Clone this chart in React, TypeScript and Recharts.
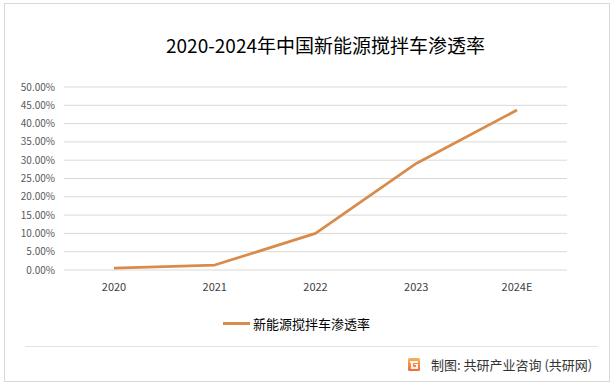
import { LineChart, Line, XAxis, YAxis, CartesianGrid } from 'recharts';

// values (share of new-energy mixer trucks)
const years = ['2020', '2021', '2022', '2023', '2024E'];
const penetration = [0.005, 0.0135, 0.1, 0.291, 0.437];
const yTicks = [0, 0.05, 0.1, 0.15, 0.2, 0.25, 0.3, 0.35, 0.4, 0.45, 0.5];

const seriesName = '新能源搅拌车渗透率';
const title = '2020-2024年中国新能源搅拌车渗透率';
const source = '制图: 共研产业咨询 (共研网)';

const lineColor = '#D88B4B';
const font = '"Noto Sans CJK SC", "Noto Sans", sans-serif';

const data = years.map((year, i) => ({ year, value: penetration[i] }));

const pct = (v: number) => `${(v * 100).toFixed(2)}%`;

function Logo() {
  return (
    <svg width={12} height={13} viewBox="0 0 12 13">
      <defs>
        <linearGradient id="lg" x1="0" y1="0" x2="0" y2="1">
          <stop offset="0%" stopColor="#F7B35A" />
          <stop offset="100%" stopColor="#EE6A3C" />
        </linearGradient>
      </defs>
      <rect x={0} y={0} width={12} height={13} rx={1.5} fill="url(#lg)" />
      <path d="M2 3 H10 V5 H5 V9 H8 V7 H6.5 V6 H10 V11 H3 V5 H2 Z" fill="#fff" opacity={0.9} />
    </svg>
  );
}

export default function App() {
  return (
    <div style={{ position: 'absolute', left: 0, top: 0, width: 615, height: 386, background: '#fff', fontFamily: font }}>
      {/* outer frame */}
      <div style={{ position: 'absolute', left: 4, top: 3, width: 604, height: 377, border: '1px solid #d9d9d9' }} />

      <div style={{ position: 'absolute', left: 0, right: 0, top: 32, textAlign: 'center', paddingLeft: 36, fontSize: 19, color: '#000', lineHeight: '26px' }}>
        {title}
      </div>

      <LineChart width={615} height={386} data={data} margin={{ top: 87, right: 48, bottom: 86, left: 0 }} style={{ position: 'absolute', left: 0, top: 0 }}>
        <CartesianGrid vertical={false} stroke="#d9d9d9" />
        <XAxis
          dataKey="year"
          axisLine={false}
          tickLine={false}
          tickSize={0}
          tickMargin={13}
          height={30}
          padding={{ left: 50, right: 50 }}
          tick={{ fontSize: 11, fill: '#404040', fontFamily: font }}
        />
        <YAxis
          domain={[0, 0.5]}
          ticks={yTicks}
          tickFormatter={pct}
          axisLine={false}
          tickLine={false}
          tickSize={0}
          tickMargin={9}
          width={64}
          interval={0}
          tick={{ fontSize: 10, fill: '#595959', fontFamily: font }}
        />
        <Line type="linear" dataKey="value" name={seriesName} stroke={lineColor} strokeWidth={2.75} strokeLinejoin="round" dot={false} isAnimationActive={false} />
      </LineChart>

      {/* legend */}
      <div style={{ position: 'absolute', left: 223, top: 314, display: 'flex', alignItems: 'center', fontSize: 13, color: '#000' }}>
        <span style={{ display: 'inline-block', width: 27, height: 3, background: lineColor, marginRight: 3 }} />
        <span>{seriesName}</span>
      </div>

      <div style={{ position: 'absolute', left: 25, top: 346, width: 573, height: 1, background: '#e3e3e3' }} />

      <div style={{ position: 'absolute', left: 408, top: 355, display: 'flex', alignItems: 'center', fontSize: 13, color: '#333' }}>
        <Logo />
        <span style={{ marginLeft: 11 }}>{source}</span>
      </div>
    </div>
  );
}
